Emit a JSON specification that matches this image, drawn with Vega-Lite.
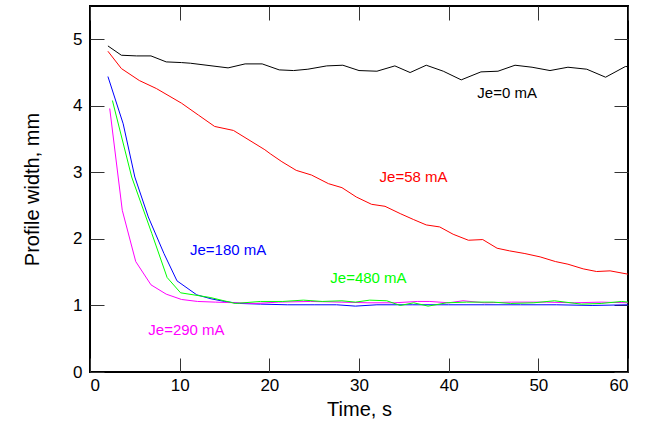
{
  "$schema": "https://vega.github.io/schema/vega-lite/v6.json",
  "width": 538,
  "height": 366,
  "autosize": "none",
  "padding": {"left": 90, "top": 6, "right": 33, "bottom": 52},
  "config": {
    "font": "Liberation Sans",
    "view": {"stroke": "black", "strokeWidth": 2},
    "axis": {"grid": false, "domain": false, "labelFontSize": 17, "labelColor": "black", "titleFontSize": 20, "titleFontWeight": "normal", "titleColor": "black"}
  },
  "datasets": {
    "lines": [
      {"s": "0", "t": 2.0, "w": 4.90}, {"s": "0", "t": 3.5, "w": 4.76}, {"s": "0", "t": 5.2, "w": 4.75}, {"s": "0", "t": 6.8, "w": 4.75}, {"s": "0", "t": 8.5, "w": 4.66}, {"s": "0", "t": 10.2, "w": 4.65}, {"s": "0", "t": 11.2, "w": 4.64}, {"s": "0", "t": 15.4, "w": 4.57}, {"s": "0", "t": 17.3, "w": 4.63}, {"s": "0", "t": 19.2, "w": 4.63}, {"s": "0", "t": 21.1, "w": 4.54}, {"s": "0", "t": 22.7, "w": 4.53}, {"s": "0", "t": 24.3, "w": 4.55}, {"s": "0", "t": 26.4, "w": 4.60}, {"s": "0", "t": 28.2, "w": 4.61}, {"s": "0", "t": 30.0, "w": 4.53}, {"s": "0", "t": 32.0, "w": 4.52}, {"s": "0", "t": 34.0, "w": 4.60}, {"s": "0", "t": 35.7, "w": 4.50}, {"s": "0", "t": 37.5, "w": 4.61}, {"s": "0", "t": 39.4, "w": 4.52}, {"s": "0", "t": 41.4, "w": 4.39}, {"s": "0", "t": 43.6, "w": 4.51}, {"s": "0", "t": 45.5, "w": 4.52}, {"s": "0", "t": 47.4, "w": 4.61}, {"s": "0", "t": 49.3, "w": 4.58}, {"s": "0", "t": 51.3, "w": 4.53}, {"s": "0", "t": 53.3, "w": 4.58}, {"s": "0", "t": 55.4, "w": 4.55}, {"s": "0", "t": 57.5, "w": 4.43}, {"s": "0", "t": 59.7, "w": 4.59}, {"s": "0", "t": 60.0, "w": 4.59},
      {"s": "58", "t": 2.0, "w": 4.82}, {"s": "58", "t": 3.5, "w": 4.56}, {"s": "58", "t": 5.5, "w": 4.38}, {"s": "58", "t": 7.4, "w": 4.26}, {"s": "58", "t": 10.2, "w": 4.04}, {"s": "58", "t": 12.1, "w": 3.86}, {"s": "58", "t": 13.9, "w": 3.69}, {"s": "58", "t": 16.0, "w": 3.63}, {"s": "58", "t": 19.5, "w": 3.34}, {"s": "58", "t": 20.1, "w": 3.28}, {"s": "58", "t": 21.4, "w": 3.16}, {"s": "58", "t": 23.0, "w": 3.03}, {"s": "58", "t": 24.7, "w": 2.96}, {"s": "58", "t": 26.6, "w": 2.83}, {"s": "58", "t": 28.1, "w": 2.77}, {"s": "58", "t": 29.7, "w": 2.63}, {"s": "58", "t": 31.4, "w": 2.52}, {"s": "58", "t": 32.9, "w": 2.49}, {"s": "58", "t": 34.6, "w": 2.38}, {"s": "58", "t": 36.1, "w": 2.29}, {"s": "58", "t": 37.5, "w": 2.21}, {"s": "58", "t": 39.0, "w": 2.18}, {"s": "58", "t": 40.5, "w": 2.07}, {"s": "58", "t": 42.2, "w": 1.98}, {"s": "58", "t": 43.8, "w": 1.99}, {"s": "58", "t": 45.4, "w": 1.86}, {"s": "58", "t": 46.8, "w": 1.82}, {"s": "58", "t": 48.5, "w": 1.78}, {"s": "58", "t": 50.2, "w": 1.73}, {"s": "58", "t": 51.9, "w": 1.66}, {"s": "58", "t": 53.3, "w": 1.62}, {"s": "58", "t": 55.0, "w": 1.55}, {"s": "58", "t": 56.5, "w": 1.51}, {"s": "58", "t": 58.0, "w": 1.52}, {"s": "58", "t": 60.0, "w": 1.47},
      {"s": "180", "t": 2.0, "w": 4.44}, {"s": "180", "t": 3.7, "w": 3.73}, {"s": "180", "t": 5.0, "w": 2.93}, {"s": "180", "t": 6.5, "w": 2.33}, {"s": "180", "t": 8.25, "w": 1.78}, {"s": "180", "t": 9.7, "w": 1.37}, {"s": "180", "t": 11.9, "w": 1.16}, {"s": "180", "t": 13.5, "w": 1.10}, {"s": "180", "t": 15.0, "w": 1.06}, {"s": "180", "t": 16.7, "w": 1.03}, {"s": "180", "t": 19.0, "w": 1.02}, {"s": "180", "t": 22.0, "w": 1.01}, {"s": "180", "t": 25.0, "w": 1.01}, {"s": "180", "t": 27.5, "w": 1.01}, {"s": "180", "t": 29.6, "w": 0.99}, {"s": "180", "t": 32.0, "w": 1.01}, {"s": "180", "t": 36.0, "w": 1.01}, {"s": "180", "t": 40.0, "w": 1.01}, {"s": "180", "t": 44.0, "w": 1.01}, {"s": "180", "t": 48.0, "w": 1.01}, {"s": "180", "t": 52.0, "w": 1.01}, {"s": "180", "t": 56.0, "w": 1.00}, {"s": "180", "t": 60.0, "w": 1.01},
      {"s": "290", "t": 2.2, "w": 3.96}, {"s": "290", "t": 3.6, "w": 2.43}, {"s": "290", "t": 5.1, "w": 1.66}, {"s": "290", "t": 6.8, "w": 1.31}, {"s": "290", "t": 8.5, "w": 1.17}, {"s": "290", "t": 10.2, "w": 1.09}, {"s": "290", "t": 12.0, "w": 1.06}, {"s": "290", "t": 14.0, "w": 1.05}, {"s": "290", "t": 16.3, "w": 1.04}, {"s": "290", "t": 18.5, "w": 1.03}, {"s": "290", "t": 21.0, "w": 1.05}, {"s": "290", "t": 24.6, "w": 1.06}, {"s": "290", "t": 28.0, "w": 1.05}, {"s": "290", "t": 31.0, "w": 1.04}, {"s": "290", "t": 34.0, "w": 1.04}, {"s": "290", "t": 36.5, "w": 1.06}, {"s": "290", "t": 37.9, "w": 1.06}, {"s": "290", "t": 40.0, "w": 1.04}, {"s": "290", "t": 41.6, "w": 1.07}, {"s": "290", "t": 44.0, "w": 1.04}, {"s": "290", "t": 47.0, "w": 1.05}, {"s": "290", "t": 50.9, "w": 1.05}, {"s": "290", "t": 54.0, "w": 1.04}, {"s": "290", "t": 57.0, "w": 1.05}, {"s": "290", "t": 60.0, "w": 1.04},
      {"s": "480", "t": 2.5, "w": 4.08}, {"s": "480", "t": 4.65, "w": 2.93}, {"s": "480", "t": 6.9, "w": 2.08}, {"s": "480", "t": 8.6, "w": 1.42}, {"s": "480", "t": 10.1, "w": 1.19}, {"s": "480", "t": 13.4, "w": 1.12}, {"s": "480", "t": 16.2, "w": 1.03}, {"s": "480", "t": 19.0, "w": 1.06}, {"s": "480", "t": 21.5, "w": 1.06}, {"s": "480", "t": 23.8, "w": 1.08}, {"s": "480", "t": 25.9, "w": 1.06}, {"s": "480", "t": 28.1, "w": 1.07}, {"s": "480", "t": 29.6, "w": 1.05}, {"s": "480", "t": 31.2, "w": 1.08}, {"s": "480", "t": 33.1, "w": 1.07}, {"s": "480", "t": 34.6, "w": 1.00}, {"s": "480", "t": 36.1, "w": 1.04}, {"s": "480", "t": 37.7, "w": 0.99}, {"s": "480", "t": 39.8, "w": 1.04}, {"s": "480", "t": 42.0, "w": 1.05}, {"s": "480", "t": 45.0, "w": 1.05}, {"s": "480", "t": 46.9, "w": 1.03}, {"s": "480", "t": 49.5, "w": 1.04}, {"s": "480", "t": 51.8, "w": 1.07}, {"s": "480", "t": 54.8, "w": 1.02}, {"s": "480", "t": 57.0, "w": 1.03}, {"s": "480", "t": 59.3, "w": 1.06}, {"s": "480", "t": 60.0, "w": 1.05}
    ],
    "labels": [
      {"s": "0", "label": "Je=0 mA", "t": 43.2, "w": 4.19},
      {"s": "58", "label": "Je=58 mA", "t": 32.3, "w": 2.93},
      {"s": "180", "label": "Je=180 mA", "t": 11.15, "w": 1.83},
      {"s": "290", "label": "Je=290 mA", "t": 6.5, "w": 0.63},
      {"s": "480", "label": "Je=480 mA", "t": 26.8, "w": 1.42}
    ]
  },
  "layer": [
    {
      "data": {"name": "lines"},
      "mark": {"type": "line", "strokeWidth": 1},
      "encoding": {
        "x": {"field": "t", "type": "quantitative", "scale": {"domain": [0, 60], "nice": false}, "axis": {"title": "Time, s", "tickSize": -14, "tickColor": "#333333", "tickWidth": 1, "values": [0, 10, 20, 30, 40, 50, 60], "labelPadding": 19, "titlePadding": 6}},
        "y": {"field": "w", "type": "quantitative", "scale": {"domain": [0, 5.5], "nice": false}, "axis": {"title": "Profile width, mm", "tickSize": -14, "tickColor": "#333333", "tickWidth": 1, "values": [0, 1, 2, 3, 4, 5], "labelPadding": 22, "titlePadding": 30}},
        "color": {"field": "s", "type": "nominal", "scale": {"domain": ["0", "58", "180", "290", "480"], "range": ["#000000", "#ff0000", "#0000ff", "#ff00ff", "#00ff00"]}, "legend": null}
      }
    },
    {
      "data": {"name": "labels"},
      "mark": {"type": "text", "align": "left", "baseline": "middle", "fontSize": 15},
      "encoding": {
        "x": {"field": "t", "type": "quantitative", "axis": {"orient": "top", "tickSize": -14, "tickColor": "#333333", "tickWidth": 1, "labels": false, "title": null, "values": [0, 10, 20, 30, 40, 50, 60]}},
        "y": {"field": "w", "type": "quantitative", "axis": {"orient": "right", "tickSize": -14, "tickColor": "#333333", "tickWidth": 1, "labels": false, "title": null, "values": [0, 1, 2, 3, 4, 5]}},
        "text": {"field": "label"},
        "color": {"field": "s", "type": "nominal", "legend": null}
      }
    }
  ],
  "resolve": {"axis": {"x": "independent", "y": "independent"}}
}
